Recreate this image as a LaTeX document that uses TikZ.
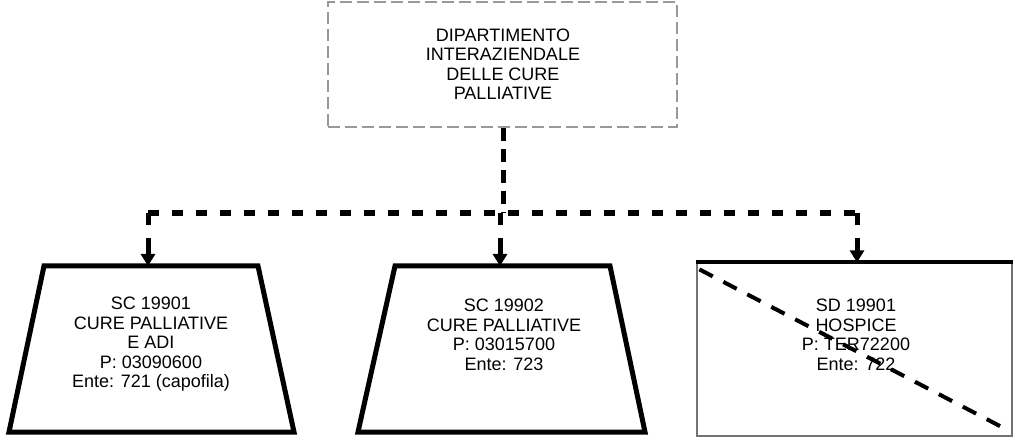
\documentclass[tikz,border=0pt]{standalone}
\usepackage{fontspec}
\setmainfont{Liberation Sans}
\usetikzlibrary{arrows.meta,calc}
\begin{document}
\begin{tikzpicture}[x=1pt,y=-1pt,
  txt/.style={align=center,inner sep=0pt,font=\fontsize{18}{19.5}\selectfont},
  deptbox/.style={draw=black!40,line width=2pt,dash pattern=on 12pt off 5pt,minimum width=349pt,minimum height=125pt,inner sep=0pt},
  trapline/.style={draw,line width=5pt},
  rectbox/.style={draw=black!55,line width=1.2pt,minimum width=315pt,minimum height=173pt,inner sep=0pt},
  vconn/.style={line width=5pt,dash pattern=on 13pt off 8pt},
  hconn/.style={line width=6pt,dash pattern=on 11pt off 13pt},
  drop/.style={line width=5pt,dash pattern=on 12pt off 13pt on 100pt,-{Triangle[width=14pt,length=12pt]}},
  diag/.style={line width=4pt,dash pattern=on 15pt off 12pt}]
\useasboundingbox (0,0) rectangle (1014,438);
% top department box
\node[deptbox] (dept) at (502,64.5) {};
\node[txt] (tdept) at (503,64) {DIPARTIMENTO\\INTERAZIENDALE\\DELLE CURE\\ PALLIATIVE};
% child 1 (trapezoid)
\coordinate (c1tl) at (44,266);
\coordinate (c1tr) at (258,266);
\coordinate (c1br) at (294,432);
\coordinate (c1bl) at (9,432);
\coordinate (c1) at (148,266);
\draw[trapline] (c1tl) -- (c1tr) -- (c1br) -- (c1bl) -- cycle;
\node[txt] (t1) at (151,344.5) {SC 19901\\CURE PALLIATIVE\\E ADI\\P: 03090600\\Ente: 721 (capofila)};
% child 2 (trapezoid)
\coordinate (c2tl) at (395,266);
\coordinate (c2tr) at (610,266);
\coordinate (c2br) at (645,432);
\coordinate (c2bl) at (358,432);
\coordinate (c2) at (500,266);
\draw[trapline] (c2tl) -- (c2tr) -- (c2br) -- (c2bl) -- cycle;
\node[txt] (t2) at (504,335) {SC 19902\\CURE PALLIATIVE\\P: 03015700\\Ente: 723};
% child 3 (rectangle)
\node[rectbox] (c3) at (854.5,349.5) {};
\draw[line width=4pt] (c3.north west) -- (c3.north east);
\draw[diag] ($(c3.north west)+(3,7)$) -- ($(c3.south east)+(-2,-5)$);
\node[txt] (t3) at (856,335) {SD 19901\\HOSPICE\\P: TER72200\\Ente: 722};
% connectors
\coordinate (bus) at (503,213);
\coordinate (b1) at (148,213);
\coordinate (b2) at (500,213);
\coordinate (b3) at (857,213);
\draw[vconn] (dept.south -| bus) -- (bus);
\draw[hconn] (b1) -- (b3);
\draw[drop] (b1) -- (c1);
\draw[drop] (b2) -- (c2);
\draw[drop] (b3) -- (b3 |- c3.north);
\end{tikzpicture}
\end{document}
